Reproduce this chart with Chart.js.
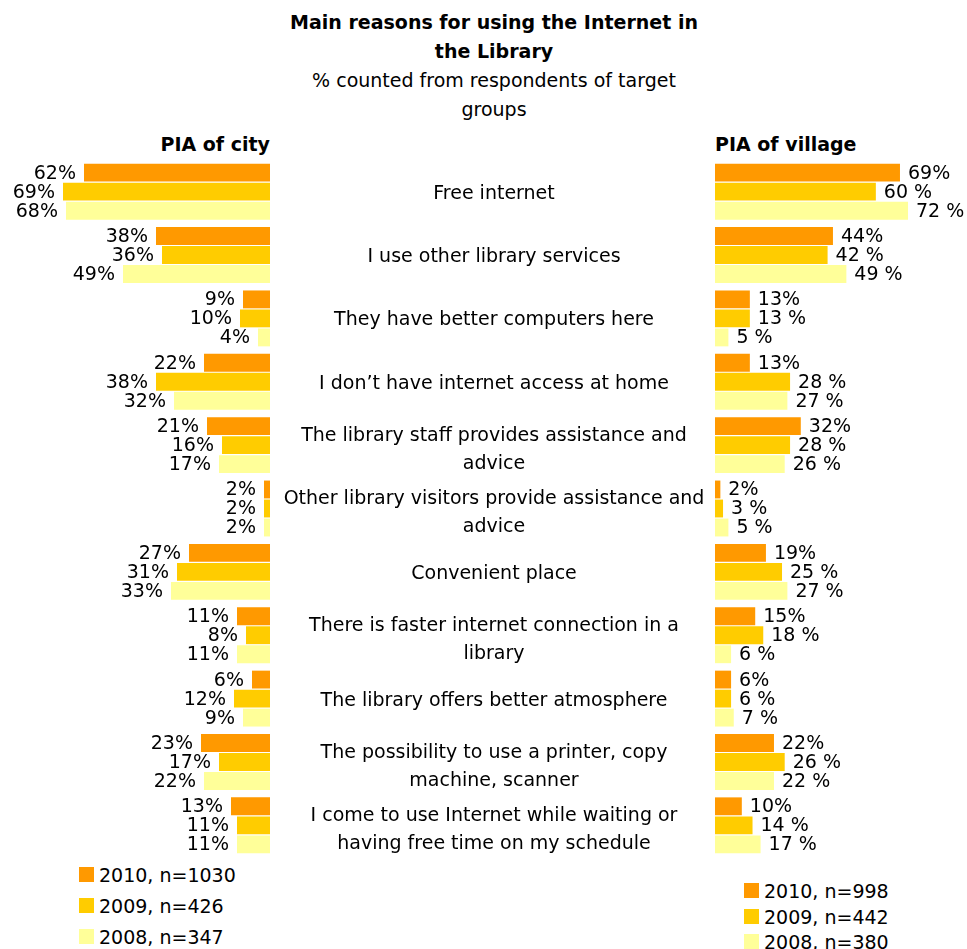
<!DOCTYPE html>
<html>
<head>
<meta charset="utf-8">
<script src="https://cdn.jsdelivr.net/npm/chart.js@4"></script>
<style>
  html, body { margin: 0; padding: 0; background: #fff; }
  body { width: 967px; height: 949px; position: relative; overflow: hidden;
         font-family: "DejaVu Sans", Verdana, sans-serif; color: #000; }
  .txt { position: absolute; white-space: nowrap; font-size: 19px; line-height: 29px; }
  .bold { font-weight: bold; }
  canvas { position: absolute; }
  .legend { position: absolute; font-size: 19px; }
  .legend .row { position: absolute; left: 0; white-space: nowrap; height: 24px; line-height: 24px; }
  .legend .sw { position: absolute; left: 0; top: 4px; width: 15px; height: 15px; }
  .legend .lb { position: absolute; left: 20px; top: 0; }
</style>
</head>
<body>

<div class="txt" style="left:194px; top:8px; width:600px; text-align:center;">
  <span class="bold">Main reasons for using the Internet in<br>the Library</span><br>
  % counted from respondents of target<br>groups
</div>

<div class="txt bold" style="right:697px; top:130px;">PIA of city</div>
<div class="txt bold" style="left:715px; top:130px;">PIA of village</div>

<canvas id="city" width="270" height="697" style="left:0; top:160px;"></canvas>
<canvas id="village" width="687" height="697" style="left:280px; top:160px;"></canvas>

<div class="legend" id="legendCity" style="left:79px; top:863px;"></div>
<div class="legend" id="legendVillage" style="left:744px; top:879px;"></div>

<script>
// Reasons (each entry holds its display lines)
const categories = [
  ["Free internet"],
  ["I use other library services"],
  ["They have better computers here"],
  ["I don\u2019t have internet access at home"],
  ["The library staff provides assistance and", "advice"],
  ["Other library visitors provide assistance and", "advice"],
  ["Convenient place"],
  ["There is faster internet connection in a", "library"],
  ["The library offers better atmosphere"],
  ["The possibility to use a printer, copy", "machine, scanner"],
  ["I come to use Internet while waiting or", "having free time on my schedule"]
];

// PIA of city, % of respondents
const city2010 = [62, 38, 9, 22, 21, 2, 27, 11, 6, 23, 13];
const city2009 = [69, 36, 10, 38, 16, 2, 31, 8, 12, 17, 11];
const city2008 = [68, 49, 4, 32, 17, 2, 33, 11, 9, 22, 11];

// PIA of village, % of respondents
const village2010 = [69, 44, 13, 13, 32, 2, 19, 15, 6, 22, 10];
const village2009 = [60, 42, 13, 28, 28, 3, 25, 18, 6, 26, 14];
const village2008 = [72, 49, 5, 27, 26, 5, 27, 6, 7, 22, 17];

// Series names
const cityLabels = ["2010, n=1030", "2009, n=426", "2008, n=347"];
const villageLabels = ["2010, n=998", "2009, n=442", "2008, n=380"];

const seriesColors = ["#FF9900", "#FFCC00", "#FFFF99"];
const citySuffix = ["%", "%", "%"];
const villageSuffix = ["%", " %", " %"];

const FONT = '19px "DejaVu Sans", Verdana, sans-serif';

function makeDatasets(values, labels, suffixes) {
  return values.map((vals, i) => ({
    label: labels[i],
    data: vals,
    suffix: suffixes[i],
    backgroundColor: seriesColors[i],
    borderWidth: 0,
    categoryPercentage: 0.9,
    barPercentage: 0.94
  }));
}

// Value labels at the outer end of each bar
const valueLabels = {
  id: 'valueLabels',
  afterDatasetsDraw(chart) {
    const ctx = chart.ctx;
    const reversed = chart.scales.x.options.reverse;
    ctx.save();
    ctx.font = FONT;
    ctx.fillStyle = '#000';
    ctx.textBaseline = 'middle';
    ctx.textAlign = reversed ? 'right' : 'left';
    chart.data.datasets.forEach((ds, i) => {
      chart.getDatasetMeta(i).data.forEach((bar, j) => {
        const x = reversed ? bar.x - 8 : bar.x + 8;
        ctx.fillText(ds.data[j] + ds.suffix, x, bar.y + 1);
      });
    });
    ctx.restore();
  }
};

// Reason texts drawn in the gap between the two panels
const categoryText = {
  id: 'categoryText',
  afterDraw(chart) {
    const ctx = chart.ctx;
    const yScale = chart.scales.y;
    const cx = 214;
    const lineH = 28;
    ctx.save();
    ctx.font = FONT;
    ctx.fillStyle = '#000';
    ctx.textAlign = 'center';
    ctx.textBaseline = 'middle';
    chart.data.labels.forEach((lines, j) => {
      const yc = yScale.getPixelForValue(j);
      const shift = lines.length > 1 ? 5 : 2;
      lines.forEach((line, k) => {
        const y = yc + (k - (lines.length - 1) / 2) * lineH + shift;
        ctx.fillText(line, cx, y);
      });
    });
    ctx.restore();
  }
};

const baseOptions = (reverse, max, padLeft) => ({
  indexAxis: 'y',
  responsive: false,
  animation: false,
  devicePixelRatio: 1,
  layout: { padding: { left: padLeft, right: 0, top: 0, bottom: 0 } },
  scales: {
    x: { display: false, reverse: reverse, min: 0, max: max },
    y: { display: false }
  },
  plugins: { legend: { display: false }, tooltip: { enabled: false } }
});

const cityChart = new Chart(document.getElementById('city'), {
  type: 'bar',
  data: {
    labels: categories,
    datasets: makeDatasets([city2010, city2009, city2008], cityLabels, citySuffix)
  },
  options: baseOptions(true, 90, 0),
  plugins: [valueLabels]
});

const villageChart = new Chart(document.getElementById('village'), {
  type: 'bar',
  data: {
    labels: categories,
    datasets: makeDatasets([village2010, village2009, village2008], villageLabels, villageSuffix)
  },
  options: baseOptions(false, 94, 435),
  plugins: [valueLabels, categoryText]
});

// Legends built from the charts' datasets
function buildLegend(chart, el, rowStep) {
  chart.data.datasets.forEach((ds, i) => {
    const row = document.createElement('div');
    row.className = 'row';
    row.style.top = (i * rowStep) + 'px';
    const sw = document.createElement('span');
    sw.className = 'sw';
    sw.style.background = ds.backgroundColor;
    const lb = document.createElement('span');
    lb.className = 'lb';
    lb.textContent = ds.label;
    row.appendChild(sw);
    row.appendChild(lb);
    el.appendChild(row);
  });
}
buildLegend(cityChart, document.getElementById('legendCity'), 31);
buildLegend(villageChart, document.getElementById('legendVillage'), 25.5);
</script>
</body>
</html>
